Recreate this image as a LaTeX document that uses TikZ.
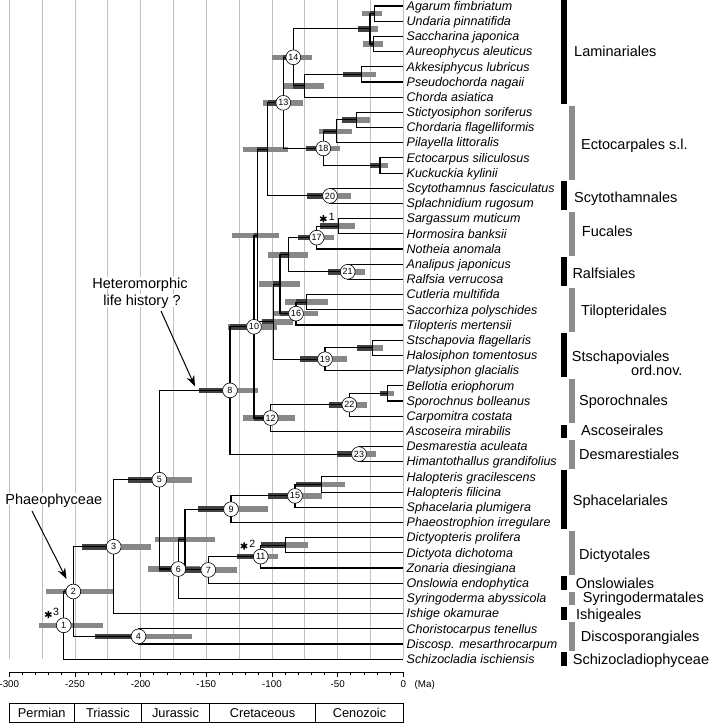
\documentclass[tikz,border=0pt]{standalone}
\usepackage{fontspec}
\setmainfont{Liberation Sans}
\usetikzlibrary{arrows.meta}
\tikzset{
  br/.style={line width=1.15pt},
  gridln/.style={line width=0.9pt, black!25},
  hpd/.style={fill=black!47},
  hpdd/.style={fill=black!75},
  nd/.style={circle, draw, line width=0.6pt, fill=white, minimum size=14.8pt, inner sep=0pt, font=\fontsize{9}{9}\selectfont},
  taxon/.style={anchor=west, inner sep=0pt, font=\fontsize{12.5}{13}\selectfont\itshape, text height=8.5pt, text depth=0pt},
  grp/.style={anchor=west, inner sep=0pt, font=\fontsize{14.5}{15}\selectfont, text height=10.2pt, text depth=0pt},
  axlab/.style={font=\fontsize{9.8}{10}\selectfont, inner sep=0pt, text height=7pt, text depth=0pt},
  per/.style={font=\fontsize{12.8}{13}\selectfont, inner sep=0pt, text height=9.1pt, text depth=0pt},
  note/.style={font=\fontsize{14.5}{15}\selectfont, inner sep=1pt, fill=white, text height=10.2pt, text depth=0pt},
  supn/.style={font=\fontsize{10.5}{11}\selectfont, inner sep=0pt, text height=7.5pt, text depth=0pt},
  astk/.pic={\draw[line width=1.5pt] (0,-3.6)--(0,3.6) (-3.1,-1.8)--(3.1,1.8) (-3.1,1.8)--(3.1,-1.8);},
  arr/.style={line width=1pt, -{Stealth[length=11pt,width=8pt]}}
}
\newcommand\hpdbar[5]{\fill[hpd] (#2,#1-2.8) rectangle (#3,#1+2.8);\fill[hpdd] (#4,#1-2.8) rectangle (#5,#1+2.8);}
\begin{document}
\begin{tikzpicture}[x=1pt,y=-1pt]
\useasboundingbox (0,0) rectangle (709,723);
% grid
\foreach \k in {0,...,12} \draw[gridln] ({9.3+32.8333*\k},0) -- ({9.3+32.8333*\k},659);
% tips
\foreach \i in {0,...,43} \coordinate (t\i) at (403.3,{6+15.19*\i});
% internal nodes
\coordinate (A1) at (374.3,13.6);
\coordinate (A2) at (373.7,44.0);
\coordinate (A3) at (370,28.8);
\coordinate (A4) at (361.7,74.4);
\coordinate (A5) at (304.3,85.8);
\coordinate (N14) at (293.3,57.3);
\coordinate (E1) at (356.7,119.9);
\coordinate (E2) at (336.7,131.3);
\coordinate (E3) at (380,165.5);
\coordinate (N18) at (323.3,148.4);
\coordinate (N13) at (283.3,102.85);
\coordinate (N20) at (330,195.9);
\coordinate (B1) at (267.7,149.4);
\coordinate (F1) at (338.3,226.25);
\coordinate (N17) at (316.7,237.65);
\coordinate (N21) at (347.7,271.8);
\coordinate (C1) at (288.3,254.7);
\coordinate (T1) at (306.7,302.2);
\coordinate (N16) at (296,313.6);
\coordinate (C2) at (280,284.15);
\coordinate (S1) at (372.7,347.8);
\coordinate (N19) at (325,359.2);
\coordinate (C3) at (273.3,321.7);
\coordinate (B2) at (257.3,235.5);
\coordinate (P1) at (387.7,393.35);
\coordinate (N22) at (349.3,404.7);
\coordinate (N12) at (270.7,418.0);
\coordinate (N10) at (254,326.8);
\coordinate (N23) at (359,454.1);
\coordinate (N8) at (230,390.4);
\coordinate (H1) at (321.7,484.5);
\coordinate (N15) at (295,495.9);
\coordinate (N9) at (231,509.2);
\coordinate (D1) at (285.7,545.25);
\coordinate (N11) at (260.7,556.6);
\coordinate (N7) at (208.3,569.9);
\coordinate (X6) at (185,539.6);
\coordinate (N6) at (178.3,569.0);
\coordinate (N5) at (159.3,479.7);
\coordinate (N3) at (113.7,546.7);
\coordinate (N4) at (138.5,636.4);
\coordinate (N2) at (73.3,591.5);
\coordinate (N1) at (63.7,625.3);
% HPD bars
\fill[hpd] (39.3,625.3-2.8) rectangle (103.3,625.3+2.8);
\hpdbar{591.5}{46}{113.3}{63.7}{73.3}
\hpdbar{546.7}{81.7}{150.7}{81.7}{113.7}
\hpdbar{636.4}{95}{191.7}{95}{138.5}
\hpdbar{479.7}{128.3}{191.7}{128.3}{159.3}
\hpdbar{569.0}{148.3}{200}{159.3}{178.3}
\hpdbar{539.6}{155}{215}{178.3}{185}
\hpdbar{569.9}{182}{236.7}{185}{208.3}
\hpdbar{390.4}{199.3}{258.3}{199.3}{230}
\hpdbar{509.2}{198.3}{267.7}{198.3}{231}
\hpdbar{321.7}{262}{293}{262}{273.3}
\hpdbar{326.8}{227.7}{276.7}{230}{254}
\hpdbar{556.6}{237.3}{278.3}{237.3}{260.7}
\hpdbar{418.0}{243.3}{295}{254}{270.7}
\hpdbar{102.85}{262.7}{303.3}{267.7}{283.3}
\hpdbar{57.3}{272}{312.3}{283.3}{293.3}
\hpdbar{495.9}{267.7}{321.7}{267.7}{295}
\hpdbar{313.6}{273.3}{317.7}{280}{296}
\hpdbar{237.65}{298.3}{334.3}{298.3}{316.7}
\hpdbar{148.4}{306}{340}{306}{323.3}
\hpdbar{359.2}{300}{347}{300}{325}
\hpdbar{195.9}{306.7}{351}{306.7}{330}
\hpdbar{271.8}{328.3}{365}{328.3}{347.7}
\hpdbar{404.7}{329.3}{366.7}{329.3}{349.3}
\hpdbar{454.1}{336.7}{375.7}{336.7}{359}
\hpdbar{13.6}{361.7}{381.7}{370}{374.3}
\hpdbar{44.0}{362.7}{382.7}{370}{373.7}
\hpdbar{28.8}{358.3}{378.3}{358.3}{370}
\hpdbar{74.4}{343.3}{375.7}{343.3}{361.7}
\hpdbar{85.8}{282.7}{324}{293.3}{304.3}
\hpdbar{119.9}{341.7}{370}{341.7}{356.7}
\hpdbar{131.3}{319.3}{351.7}{323.3}{336.7}
\hpdbar{165.5}{370}{388.3}{370}{380}
\hpdbar{149.4}{243.3}{288.3}{257.3}{267.7}
\hpdbar{235.5}{232.3}{279.3}{254}{257.3}
\hpdbar{254.7}{268.3}{307.7}{280}{288.3}
\hpdbar{284.15}{259.3}{300}{273.3}{280}
\hpdbar{302.2}{285}{328.3}{296}{306.7}
\hpdbar{226.25}{320}{355}{320}{338.3}
\hpdbar{347.8}{357.3}{383.3}{357.3}{372.7}
\hpdbar{393.35}{380}{394.3}{380}{387.7}
\hpdbar{484.5}{296}{345}{296}{321.7}
\hpdbar{545.25}{261}{308.3}{261}{285.7}
% branches
\foreach \p/\c in {A1/t0,A1/t1,A2/t2,A2/t3,A3/A1,A3/A2,A4/t4,A4/t5,A5/A4,A5/t6,N14/A3,N14/A5,
  E1/t7,E1/t8,E2/E1,E2/t9,E3/t10,E3/t11,N18/E2,N18/E3,N13/N14,N13/N18,N20/t12,N20/t13,B1/N13,B1/N20,
  F1/t14,F1/t15,N17/F1,N17/t16,N21/t17,N21/t18,C1/N17,C1/N21,T1/t19,T1/t20,N16/T1,N16/t21,C2/C1,C2/N16,
  S1/t22,S1/t23,N19/S1,N19/t24,C3/C2,C3/N19,B2/B1,B2/C3,P1/t25,P1/t26,N22/P1,N22/t27,N12/N22,N12/t28,
  N10/B2,N10/N12,N23/t29,N23/t30,N8/N10,N8/N23,H1/t31,H1/t32,N15/H1,N15/t33,N9/N15,N9/t34,
  D1/t35,D1/t36,N11/D1,N11/t37,N7/N11,N7/t38,X6/N9,X6/N7,N6/X6,N6/t39,N5/N8,N5/N6,N3/N5,N3/t40,
  N4/t41,N4/t42,N2/N3,N2/N4,N1/N2,N1/t43}
  \draw[br] (\p) |- (\c);
% numbered nodes
\foreach \n in {1,...,23} \node[nd] (c\n) at (N\n) {\n};
% stars
\pic at (323.3,218.8) {astk};
\node[supn] (s1) at (331.7,216.7) {1};
\pic at (244,546) {astk};
\node[supn] (s2) at (252.3,544) {2};
\pic at (48.3,614.5) {astk};
\node[supn] (s3) at (56,611.7) {3};
% taxa
\foreach \i/\nm in {0/Agarum fimbriatum,1/Undaria pinnatifida,2/Saccharina japonica,3/Aureophycus aleuticus,
  4/Akkesiphycus lubricus,5/Pseudochorda nagaii,6/Chorda asiatica,7/Stictyosiphon soriferus,
  8/Chordaria flagelliformis,9/Pilayella littoralis,10/Ectocarpus siliculosus,11/Kuckuckia kylinii,
  12/Scytothamnus fasciculatus,13/Splachnidium rugosum,14/Sargassum muticum,15/Hormosira banksii,
  16/Notheia anomala,17/Analipus japonicus,18/Ralfsia verrucosa,19/Cutleria multifida,
  20/Saccorhiza polyschides,21/Tilopteris mertensii,22/Stschapovia flagellaris,23/Halosiphon tomentosus,
  24/Platysiphon glacialis,25/Bellotia eriophorum,26/Sporochnus bolleanus,27/Carpomitra costata,
  28/Ascoseira mirabilis,29/Desmarestia aculeata,30/Himantothallus grandifolius,31/Halopteris gracilescens,
  32/Halopteris filicina,33/Sphacelaria plumigera,34/Phaeostrophion irregulare,35/Dictyopteris prolifera,
  36/Dictyota dichotoma,37/Zonaria diesingiana,38/Onslowia endophytica,39/Syringoderma abyssicola,
  40/Ishige okamurae,41/Choristocarpus tenellus,42/Discosp. mesarthrocarpum,43/Schizocladia ischiensis}
  \node[taxon] (tx\i) at (406.5,{6+15.19*\i}) {\nm};
% group bars
\foreach \i/\j/\xa/\col in {0/6/561/black,7/11/569.3/black!45,12/13/561/black,14/16/569.3/black!45,
  17/18/561/black,19/21/569.3/black!45,22/24/561/black,25/27/569.3/black!45,28/28/561/black,
  29/30/569.3/black!45,31/34/561/black,35/37/569.3/black!45,38/38/561/black,39/39/569.3/black!45,
  40/40/561/black,41/42/569.3/black!45,43/43/561/black}
  \fill[\col] (\xa,{6+15.19*\i-6.8}) rectangle ({\xa+5.5},{6+15.19*\j+6.8});
% group labels
\node[grp] (g1) at (574,51.7) {Laminariales};
\node[grp] (g2) at (581,144) {Ectocarpales s.l.};
\node[grp] (g3) at (574,197.3) {Scytothamnales};
\node[grp] (g4) at (581.7,231) {Fucales};
\node[grp] (g5) at (572.3,273.3) {Ralfsiales};
\node[grp] (g6) at (581,310) {Tilopteridales};
\node[grp] (g7) at (571.7,356.7) {Stschapoviales};
\node[grp, anchor=east] (g7b) at (682.7,370) {ord.nov.};
\node[grp] (g8) at (579,400.7) {Sporochnales};
\node[grp] (g9) at (581,430) {Ascoseirales};
\node[grp] (g10) at (579,454) {Desmarestiales};
\node[grp] (g11) at (572.7,500) {Sphacelariales};
\node[grp] (g12) at (579,554) {Dictyotales};
\node[grp] (g13) at (575.7,583) {Onslowiales};
\node[grp] (g14) at (582.7,597) {Syringodermatales};
\node[grp] (g15) at (576,614.3) {Ishigeales};
\node[grp] (g16) at (580.7,636.7) {Discosporangiales};
\node[grp] (g17) at (572.7,659) {Schizocladiophyceae};
% annotations
\node[note] (ph) at (53.8,499.3) {Phaeophyceae};
\coordinate (pha) at (32,511);
\coordinate (pht) at (66.5,579);
\draw[arr] (pha) -- (pht);
\node[note] (he1) at (140,283) {Heteromorphic};
\node[note] (he2) at (142,300.5) {life history ?};
\coordinate (hea) at (161,311);
\coordinate (het) at (195,386.5);
\draw[arr] (hea) -- (het);
% axis
\draw[line width=0.8pt] (9.3,672.3) -- (403.3,672.3);
\foreach \t in {-300,-290,...,0} \draw[line width=0.7pt] ({403.3+1.31333*\t},672.3) -- ++(0,2.6);
\foreach \t in {-300,-250,...,0} {
  \draw[line width=0.7pt] ({403.3+1.31333*\t},672.3) -- ++(0,5);
  \node[axlab] at ({403.3+1.31333*\t},684) {\t};
}
\node[axlab, anchor=west] (ma) at (414.5,684) {(Ma)};
% periods
\draw[line width=0.8pt] (9.3,703) rectangle (403.3,722);
\foreach \xx in {74,141.7,209.3,315.7} \draw[line width=0.8pt] (\xx,703) -- (\xx,722);
\node[per] (p1) at (41.7,712.5) {Permian};
\node[per] (p2) at (107.9,712.5) {Triassic};
\node[per] (p3) at (175.5,712.5) {Jurassic};
\node[per] (p4) at (262.5,712.5) {Cretaceous};
\node[per] (p5) at (359.5,712.5) {Cenozoic};
\end{tikzpicture}
\end{document}
